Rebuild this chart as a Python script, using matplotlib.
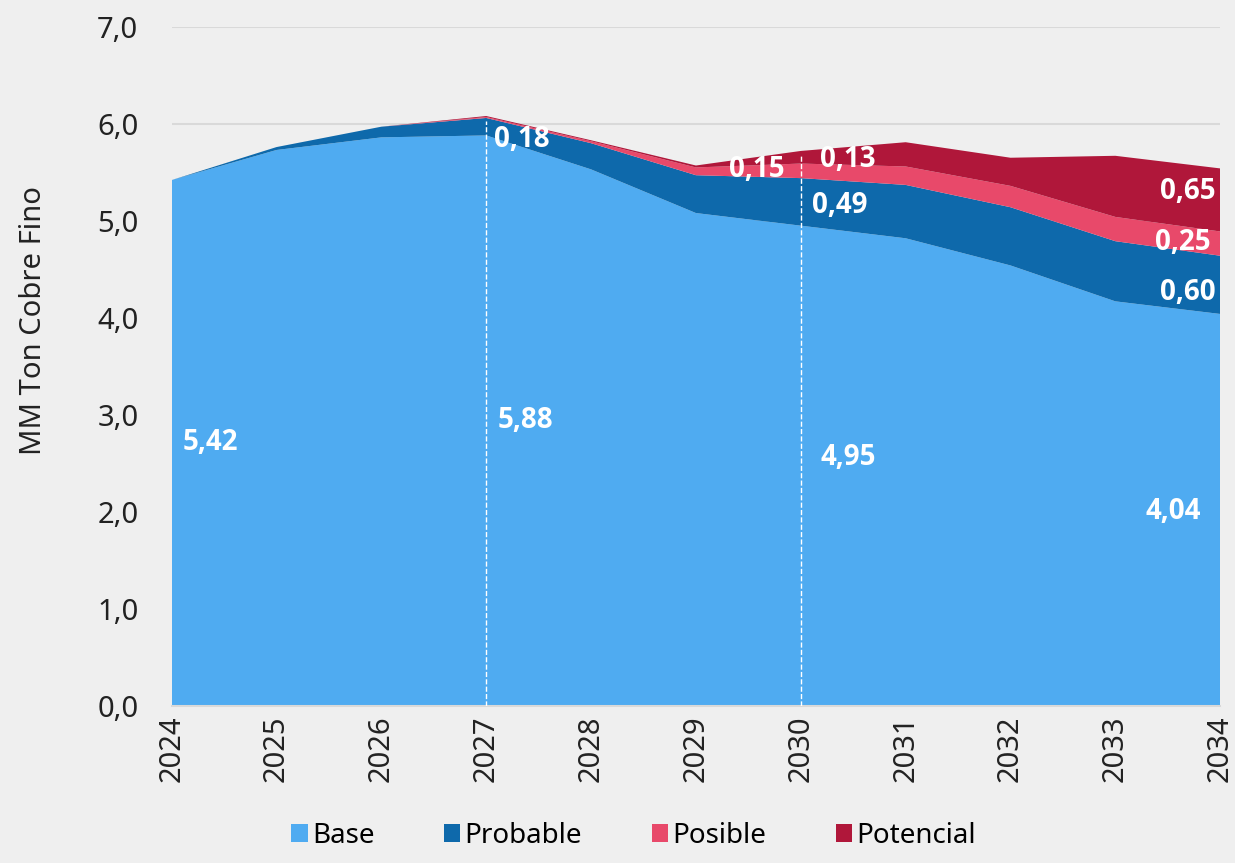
import numpy as np
import matplotlib.pyplot as plt

# data (MM ton cobre fino)
years = [2024, 2025, 2026, 2027, 2028, 2029, 2030, 2031, 2032, 2033, 2034]
base = [5.42, 5.73, 5.86, 5.88, 5.53, 5.08, 4.95, 4.82, 4.54, 4.17, 4.04]
probable = [0.00, 0.03, 0.11, 0.18, 0.27, 0.39, 0.49, 0.55, 0.60, 0.62, 0.60]
posible = [0.00, 0.00, 0.00, 0.01, 0.02, 0.08, 0.15, 0.19, 0.22, 0.25, 0.25]
potencial = [0.00, 0.00, 0.00, 0.01, 0.01, 0.02, 0.13, 0.25, 0.29, 0.63, 0.65]

series_names = ['Base', 'Probable', 'Posible', 'Potencial']
colors = ['#4fabf1', '#0e69ab', '#e8496a', '#b0173a']
bg = '#efefef'

plt.rcParams['font.family'] = ['Noto Sans', 'DejaVu Sans']

fig = plt.figure(figsize=(12.35, 8.63), dpi=100, facecolor=bg)
ax = fig.add_axes([0.139, 0.182, 0.849, 0.787], facecolor=bg)

ax.stackplot(years, base, probable, posible, potencial,
             colors=colors, labels=series_names, linewidth=0, zorder=2)

for y in range(1, 8):
    ax.axhline(y, color='#d9d9d9', lw=1.5, zorder=1)

# dashed markers at 2027 and 2030
tot = np.array(base) + np.array(probable) + np.array(posible) + np.array(potencial)
for yr in [2027, 2030]:
    i = years.index(yr)
    ax.plot([yr, yr], [0, tot[i] - 0.05], color='white', ls='--', lw=1, zorder=3)

def fmt(v):
    return '{:.2f}'.format(v).replace('.', ',')

# value labels: (value, x, y)
i24, i27, i30, i34 = 0, 3, 6, 10
labels = [
    (base[i24], 2024.37, 2.71),
    (base[i27], 2027.37, 2.94),
    (base[i30], 2030.45, 2.56),
    (base[i34], 2033.55, 2.00),
    (probable[i27], 2027.34, 5.84),
    (posible[i30], 2029.58, 5.53),
    (potencial[i30], 2030.45, 5.63),
    (probable[i30], 2030.37, 5.16),
    (potencial[i34], 2033.69, 5.30),
    (posible[i34], 2033.64, 4.78),
    (probable[i34], 2033.69, 4.26),
]
for v, x, y in labels:
    ax.text(x, y, fmt(v), color='white', fontsize=20, fontweight='bold',
            family=['Open Sans', 'DejaVu Sans'],
            ha='center', va='center', zorder=4)

ax.set_xlim(2024, 2034)
ax.set_ylim(0, 7)
ax.set_xticks(years)
ax.set_xticklabels([str(y) for y in years], rotation=90, fontsize=21, color='#222222')
ax.set_yticks(range(0, 8))
ax.set_yticklabels(['{:.1f}'.format(y).replace('.', ',') for y in range(0, 8)],
                   fontsize=21, color='#222222')
ax.tick_params(axis='x', length=0, pad=7)
ax.tick_params(axis='y', length=0, pad=24)
for s in ['top', 'right', 'left']:
    ax.spines[s].set_visible(False)
ax.spines['bottom'].set_color('#d9d9d9')
ax.spines['bottom'].set_linewidth(1.5)

ax.set_ylabel('MM Ton Cobre Fino', fontsize=21, color='#222222')
ax.yaxis.set_label_coords(-0.118, 0.567)

fig.legend(loc='lower center', bbox_to_anchor=(0.513, -0.014), ncol=4, frameon=False,
           fontsize=20, handlelength=0.6, handleheight=0.6, handletextpad=0.15,
           columnspacing=2.5)

plt.savefig('out.png', dpi=100, facecolor=bg)
